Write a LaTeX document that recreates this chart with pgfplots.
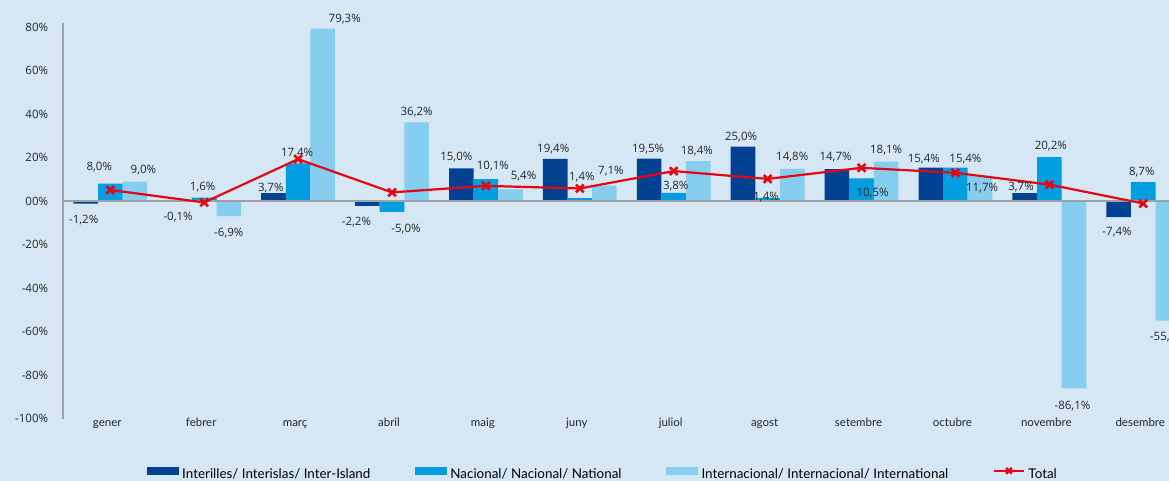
\documentclass[border=0pt]{standalone}
\usepackage{fontspec}
\setmainfont{Open Sans}
\newfontfamily\lato{Lato}
\usepackage{pgfplots}
\usepackage{pgfplotstable}
\pgfplotsset{compat=1.18}
\definecolor{bg}{RGB}{213,231,245}
\definecolor{cA}{RGB}{0,66,145}
\definecolor{cB}{RGB}{0,158,224}
\definecolor{cC}{RGB}{134,206,240}
\definecolor{cR}{RGB}{227,6,19}
\definecolor{axg}{RGB}{160,160,160}

% x value label dx dy  (dy: baseline offset from bar end, pt)
\pgfplotstableread{
x y lab dx dy
0 -1.2 {-1,2\%} -2 -19.9
1 -0.1 {-0,1\%} -1.5 -19.2
2 3.7 {3,7\%} -2.7 2
3 -2.2 {-2,2\%} -11 -19.5
4 15.0 {15,0\%} -5 8
5 19.4 {19,4\%} -2 6.6
6 19.5 {19,5\%} -1 6.6
7 25.0 {25,0\%} -2 6.7
8 14.7 {14,7\%} -1.4 8.6
9 15.4 {15,4\%} -7 5.3
10 3.7 {3,7\%} -3.7 3
11 -7.4 {-7,4\%} -1.6 -18.2
}\inter
\pgfplotstableread{
x y lab dx dy
0 8.0 {8,0\%} -11 12.7
1 1.6 {1,6\%} -1.5 7
2 17.4 {17,4\%} -1 6.3
3 -5.0 {-5,0\%} 14 -20.9
4 10.1 {10,1\%} 7 10
5 1.4 {1,4\%} 2 17.6
6 3.8 {3,8\%} 2 3.3
7 1.4 {1,4\%} -1.5 -2.7
8 10.5 {10,5\%} 11 -18.3
9 15.4 {15,4\%} 10 4.7
10 20.2 {20,2\%} 1.5 8
11 8.7 {8,7\%} -1.5 6.7
}\nacional
\pgfplotstableread{
x y lab dx dy
0 9.0 {9,0\%} 8.5 7.7
1 -6.9 {-6,9\%} 0 -19.9
2 79.3 {79,3\%} 22 6.6
3 36.2 {36,2\%} 0 6.7
4 5.4 {5,4\%} 13 9.7
5 7.1 {7,1\%} 6.5 11.3
6 18.4 {18,4\%} -1.5 7
7 14.8 {14,8\%} 0 8.3
8 18.1 {18,1\%} 0 8.3
9 11.7 {11,7\%} 2 -15.8
10 -86.1 {-86,1\%} -1.5 -20.8
11 -55.0 {-55,0\%} 0 -20.2
}\internac
\pgfplotstableread{
x y
0 5.1
1 -0.6
2 19.3
3 4.0
4 7.0
5 5.8
6 13.8
7 10.2
8 15.3
9 13.0
10 7.6
11 -1.1
}\total

\pgfplotsset{
  barlab/.style={draw=none, mark=none, forget plot,
    nodes near coords, point meta=explicit symbolic,
    visualization depends on={\thisrow{dx} \as \dx},
    visualization depends on={\thisrow{dy} \as \dy},
    nodes near coords style={anchor=base, inner sep=0pt, text=black!85,
      font=\fontsize{11.5}{12}\selectfont, xshift=\dx pt, yshift=\dy pt}},
  barleg/.style={legend image code/.code={\fill[##1] (0pt,-1pt) rectangle (32pt,7.4pt);}},
  totleg/.style={legend image code/.code={\draw[mark repeat=2,mark phase=2,##1, mark size=4pt] plot coordinates {(0pt,3.3pt) (15pt,3.3pt) (30pt,3.3pt)};}}
}

\begin{document}
\begin{tikzpicture}[x=1pt,y=1pt]
\fill[bg] (0,0) rectangle (1169,481);
\begin{scope}
\clip (0,0) rectangle (1169,481);
\begin{axis}[
  at={(62.7pt,62.4pt)}, anchor=south west,
  scale only axis, width=1108.7pt, height=395.85pt,
  xmin=-0.507, xmax=11.3, ymin=-100, ymax=82,
  axis y line*=left, axis x line*=bottom,
  x axis line style={draw=none},
  y axis line style={draw=axg, line width=2.3pt, -},
  xtick={0,...,11},
  xticklabels={gener,febrer,març,abril,maig,juny,juliol,agost,setembre,octubre,novembre,desembre},
  ytick={-100,-80,-60,-40,-20,0,20,40,60,80},
  yticklabels={-100\%,-80\%,-60\%,-40\%,-20\%,00\%,20\%,40\%,60\%,80\%},
  /pgf/number format/assume math mode=true,
  major tick length=0pt, tick style={draw=none},
  xticklabel style={font=\lato\fontsize{11.5}{12}\selectfont, anchor=base, inner sep=0pt, yshift=-8.3pt, xshift=-3pt, text=black!85},
  yticklabel style={font=\fontsize{11.5}{12}\selectfont, anchor=east, inner sep=0pt, xshift=-14.4pt, text=black!85},
  clip=false,
  legend columns=4,
  legend style={at={(axis description cs:0.0758,-0.138)}, anchor=west,
    draw=none, fill=none, inner sep=0pt, outer sep=0pt,
    nodes={inner sep=0pt, font=\lato\fontsize{13.4}{14}\selectfont, text=black},
    /tikz/every odd column/.append style={column sep=3.5pt},
    /tikz/every even column/.append style={column sep=44.5pt}},
]
\addplot[ybar, bar width=0.262, bar shift=-0.262, fill=cA, draw=none, barleg] table[x=x,y=y] {\inter};
\addlegendentry{Interilles/ Interislas/ Inter-Island}
\addplot[ybar, bar width=0.262, bar shift=0, fill=cB, draw=none, barleg] table[x=x,y=y] {\nacional};
\addlegendentry{Nacional/ Nacional/ National}
\addplot[ybar, bar width=0.262, bar shift=0.262, fill=cC, draw=none, barleg] table[x=x,y=y] {\internac};
\addlegendentry{Internacional/ Internacional/ International}
\draw[axg, line width=2pt] (axis cs:-0.507,0) -- (axis cs:11.3,0);
\addplot[barlab] table[x expr=\thisrow{x}-0.262, y=y, meta=lab] {\inter};
\addplot[barlab] table[x=x, y=y, meta=lab] {\nacional};
\addplot[barlab] table[x expr=\thisrow{x}+0.262, y=y, meta=lab] {\internac};
\addplot[cR, line width=2.2pt, mark=x, mark size=5.5pt, mark options={line width=2.6pt}, totleg]
  table[x=x,y=y] {\total};
\addlegendentry{Total}
\end{axis}
\end{scope}
\pgfresetboundingbox
\useasboundingbox (0,0) rectangle (1169,481);
\end{tikzpicture}
\end{document}
